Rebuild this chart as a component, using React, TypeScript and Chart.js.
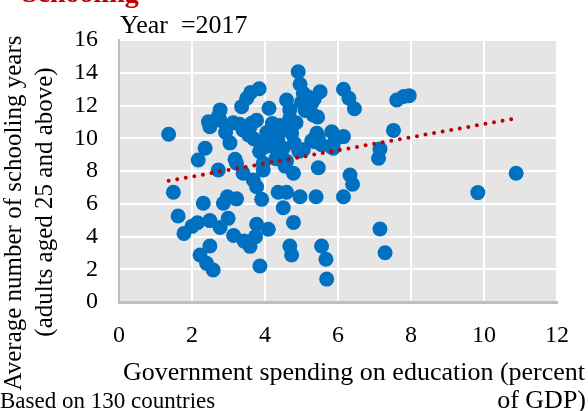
import { useEffect, useRef } from 'react';
import { Chart, registerables } from 'chart.js';

Chart.register(...registerables);

// Government spending on education (% of GDP) per country
const spending = [
  1.36, 1.49, 1.62, 1.78, 2.0, 2.15, 2.17, 2.36, 2.22, 2.4,
  2.58, 2.49, 2.31, 2.49, 2.72, 2.77, 2.86, 2.97, 2.99, 3.22,
  3.14, 3.43, 3.59, 3.77, 3.74, 4.09, 3.86, 3.91, 3.77, 3.68,
  3.4, 3.22, 3.18, 3.95, 3.95, 2.45, 2.49, 2.77, 2.72, 2.77,
  2.92, 3.04, 3.13, 3.4, 3.36, 3.5, 3.61, 3.84, 3.63, 3.59,
  3.7, 3.77, 3.95, 4.05, 4.11, 4.0, 4.41, 4.41, 4.5, 4.59,
  4.68, 4.68, 4.73, 4.68, 4.91, 4.96, 5.05, 5.2, 5.28, 5.51,
  5.32, 5.44, 5.42, 5.46, 5.37, 5.28, 5.05, 4.93, 5.83, 5.92,
  5.87, 5.8, 6.15, 6.15, 6.3, 6.45, 7.15, 7.11, 7.52, 7.61,
  7.8, 7.95, 4.59, 4.78, 4.55, 5.46, 6.33, 6.4, 4.36, 4.59,
  4.96, 5.4, 6.15, 4.5, 4.78, 7.15, 7.29, 4.68, 4.73, 5.55,
  5.67, 5.69, 9.83, 10.88, 4.23, 4.3, 4.25, 3.85, 4.2, 5.1,
  5.0, 5.35, 4.85, 3.55, 5.55, 3.3, 2.95, 4.35, 4.8,
];

// Average years of schooling, adults aged 25+, same country order
const schooling = [
  10.24, 6.7, 5.25, 4.19, 4.62, 4.84, 8.67, 9.39, 2.87, 2.36,
  1.95, 3.42, 6.03, 4.97, 8.06, 4.55, 6.03, 6.43, 5.11, 6.3,
  4.06, 3.72, 3.4, 4.75, 3.99, 4.44, 2.2, 6.27, 7.04, 7.45,
  7.86, 8.47, 8.72, 8.06, 8.47, 11.01, 10.7, 11.73, 11.32, 11.1,
  10.35, 9.72, 10.95, 10.5, 11.93, 12.44, 12.8, 13.02, 10.91, 10.7,
  9.95, 11.1, 9.62, 10.35, 11.83, 9.48, 10.78, 10.45, 9.39, 12.34,
  11.73, 11.22, 10.3, 10.52, 14.06, 13.3, 12.74, 12.5, 12.14, 12.84,
  11.42, 11.3, 10.3, 10.08, 9.79, 9.85, 9.3, 9.2, 10.4, 9.89,
  9.39, 9.5, 10.1, 12.99, 12.44, 11.8, 9.35, 8.78, 10.48, 12.34,
  12.55, 12.6, 8.6, 7.86, 8.3, 8.2, 7.76, 7.19, 6.7, 6.7,
  6.43, 6.43, 6.43, 5.76, 4.86, 4.46, 3.01, 3.42, 2.87, 3.42,
  2.61, 1.4, 6.68, 7.86, 9.48, 8.75, 10.25, 9.2, 10.9, 11.7,
  12.2, 12.4, 10.95, 10.2, 9.6, 10.85, 10.75, 9.9, 9.7,
];

// Linear trend line end points
const trendX = [1.36, 10.88];
const trendY = [7.4, 11.22];

const xTicks = [0, 2, 4, 6, 8, 10, 12];
const yTicks = [0, 2, 4, 6, 8, 10, 12, 14, 16];

const SERIF = '"Liberation Serif", "Times New Roman", serif';
const W = 588;
const H = 411;

export default function App() {
  const ref = useRef<HTMLCanvasElement>(null);

  useEffect(() => {
    const plotBg = {
      id: 'plotBg',
      beforeDraw(chart: any) {
        const { ctx, chartArea: a } = chart;
        ctx.save();
        ctx.fillStyle = '#e5e5e5';
        ctx.fillRect(a.left, a.top, a.right - a.left, a.bottom - a.top);
        ctx.restore();
      },
    };

    const texts = {
      id: 'texts',
      afterDraw(chart: any) {
        const ctx = chart.ctx as CanvasRenderingContext2D;
        ctx.save();
        ctx.textBaseline = 'alphabetic';

        ctx.fillStyle = '#C00000';
        ctx.font = `bold 28px ${SERIF}`;
        ctx.textAlign = 'left';
        ctx.fillText('Schooling', 22, 2);

        ctx.fillStyle = '#000';
        ctx.font = `26px ${SERIF}`;
        ctx.fillText('Year  =2017', 120, 33);

        ctx.font = `26px ${SERIF}`;
        ctx.fillText('Government spending on education (percent', 123, 380);
        ctx.textAlign = 'right';
        ctx.fillText('of GDP)', 586, 408);

        ctx.textAlign = 'left';
        ctx.font = `23px ${SERIF}`;
        ctx.fillText('Based on 130 countries', 0, 408);

        ctx.textAlign = 'center';
        ctx.textBaseline = 'middle';
        ctx.font = `25px ${SERIF}`;
        ctx.save();
        ctx.translate(14, 213);
        ctx.rotate(-Math.PI / 2);
        ctx.fillText('Average number of schooling years', 0, 0);
        ctx.restore();
        ctx.save();
        ctx.translate(45, 202);
        ctx.rotate(-Math.PI / 2);
        ctx.fillText('(adults aged 25 and above)', 0, 0);
        ctx.restore();

        ctx.restore();
      },
    };

    const gridColor = (c: any) => (c.tick && c.tick.value === 0 ? 'rgba(0,0,0,0)' : '#ffffff');

    const chart = new Chart(ref.current as HTMLCanvasElement, {
      type: 'scatter',
      data: {
        datasets: [
          {
            type: 'line',
            data: trendX.map((x, i) => ({ x, y: trendY[i] })),
            borderColor: '#C00000',
            borderWidth: 4,
            borderDash: [0, 8.7],
            borderCapStyle: 'round',
            pointRadius: 0,
            fill: false,
            order: 0,
          } as any,
          {
            data: spending.map((x, i) => ({ x, y: schooling[i] })),
            backgroundColor: '#0070C0',
            borderWidth: 0,
            pointRadius: 7.5,
            pointHoverRadius: 7.5,
            order: 1,
          },
        ],
      },
      options: {
        responsive: false,
        animation: false,
        devicePixelRatio: 1,
        layout: { padding: { top: 40, right: 31, left: 0, bottom: 0 } },
        plugins: { legend: { display: false }, tooltip: { enabled: false } },
        scales: {
          x: {
            type: 'linear',
            min: 0,
            max: 12,
            afterBuildTicks(s: any) {
              s.ticks = xTicks.map((v) => ({ value: v }));
            },
            afterFit(s: any) {
              s.height = 109;
            },
            ticks: { padding: 19, color: '#000', font: { family: SERIF, size: 24 } },
            grid: { color: gridColor, lineWidth: 2, drawTicks: false },
            border: { display: true, color: '#bfbfbf', width: 3 },
          },
          y: {
            type: 'linear',
            min: 0,
            max: 16,
            afterBuildTicks(s: any) {
              s.ticks = yTicks.map((v) => ({ value: v }));
            },
            afterFit(s: any) {
              s.width = 119;
            },
            ticks: { padding: 21, color: '#000', font: { family: SERIF, size: 24 } },
            grid: { color: gridColor, lineWidth: 2, drawTicks: false },
            border: { display: true, color: '#bfbfbf', width: 2 },
          },
        },
      },
      plugins: [plotBg, texts],
    });

    return () => chart.destroy();
  }, []);

  return (
    <div style={{ position: 'fixed', left: 0, top: 0, width: W, height: H, background: '#fff' }}>
      <canvas ref={ref} width={W} height={H} style={{ display: 'block' }} />
    </div>
  );
}
